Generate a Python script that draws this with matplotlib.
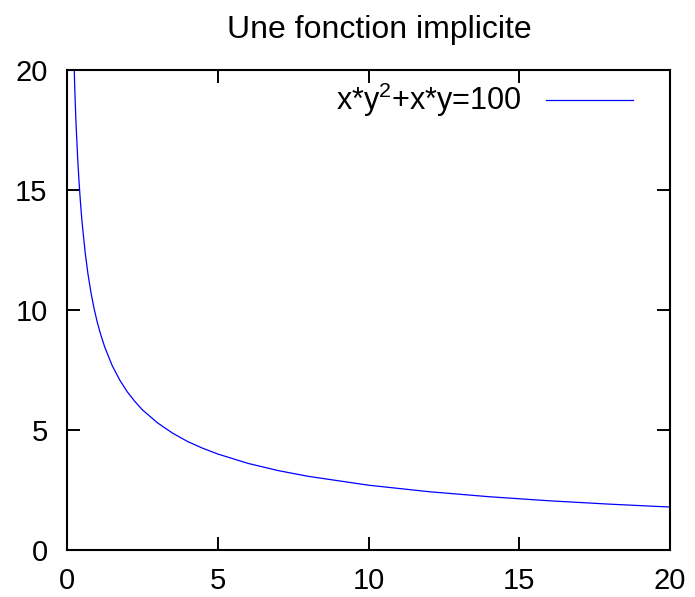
import matplotlib
matplotlib.use('Agg')
import matplotlib.pyplot as plt

plt.rcParams['font.family'] = ['Liberation Sans', 'DejaVu Sans']
plt.rcParams['mathtext.fontset'] = 'custom'
plt.rcParams['mathtext.rm'] = 'Liberation Sans'
plt.rcParams['mathtext.it'] = 'Liberation Sans'

# points read along the curve x*y^2 + x*y = 100
x_vals = [0.24, 0.27, 0.3, 0.35, 0.4, 0.45, 0.5, 0.6, 0.7, 0.8, 0.9, 1.0,
          1.1, 1.25, 1.5, 1.75, 2.0, 2.25, 2.5, 3.0, 3.5, 4.0, 4.5, 5.0,
          6.0, 7.0, 8.0, 10.0, 12.0, 14.0, 16.0, 18.0, 20.0]
y_vals = [20.0, 18.75, 17.76, 16.41, 15.32, 14.42, 13.65, 12.42, 11.46, 10.69,
          10.05, 9.51, 9.05, 8.46, 7.68, 7.08, 6.59, 6.19, 5.84, 5.30, 4.87,
          4.52, 4.24, 4.0, 3.61, 3.31, 3.07, 2.70, 2.43, 2.22, 2.05, 1.91, 1.79]

title = "Une fonction implicite"
label = r"x*y$^2$+x*y=100"
ticks = [0, 5, 10, 15, 20]

fig = plt.figure(figsize=(6.95, 5.97), dpi=100)
ax = fig.add_axes([67 / 695, 1 - 550 / 597, 603 / 695, 480 / 597])

ax.plot(x_vals, y_vals, color='#0000ff', lw=0.9, label=label)

ax.set_xlim(0, 20)
ax.set_ylim(0, 20)
ax.set_xticks(ticks)
ax.set_yticks(ticks)
ax.tick_params(direction='in', length=9.4, width=1.4, labelsize=21,
               top=True, right=True, pad=12)
ax.tick_params(axis='y', pad=14)
for s in ax.spines.values():
    s.set_linewidth(1.5)

ax.legend(loc='upper right', bbox_to_anchor=(0.9386, 0.977), frameon=False,
          fontsize=22, handlelength=2.85, handletextpad=0.8, markerfirst=False,
          borderpad=0, borderaxespad=0)

fig.text(379 / 695, 1 - 30 / 597, title, ha='center', va='center', fontsize=23)

fig.savefig('out.png', dpi=100)
